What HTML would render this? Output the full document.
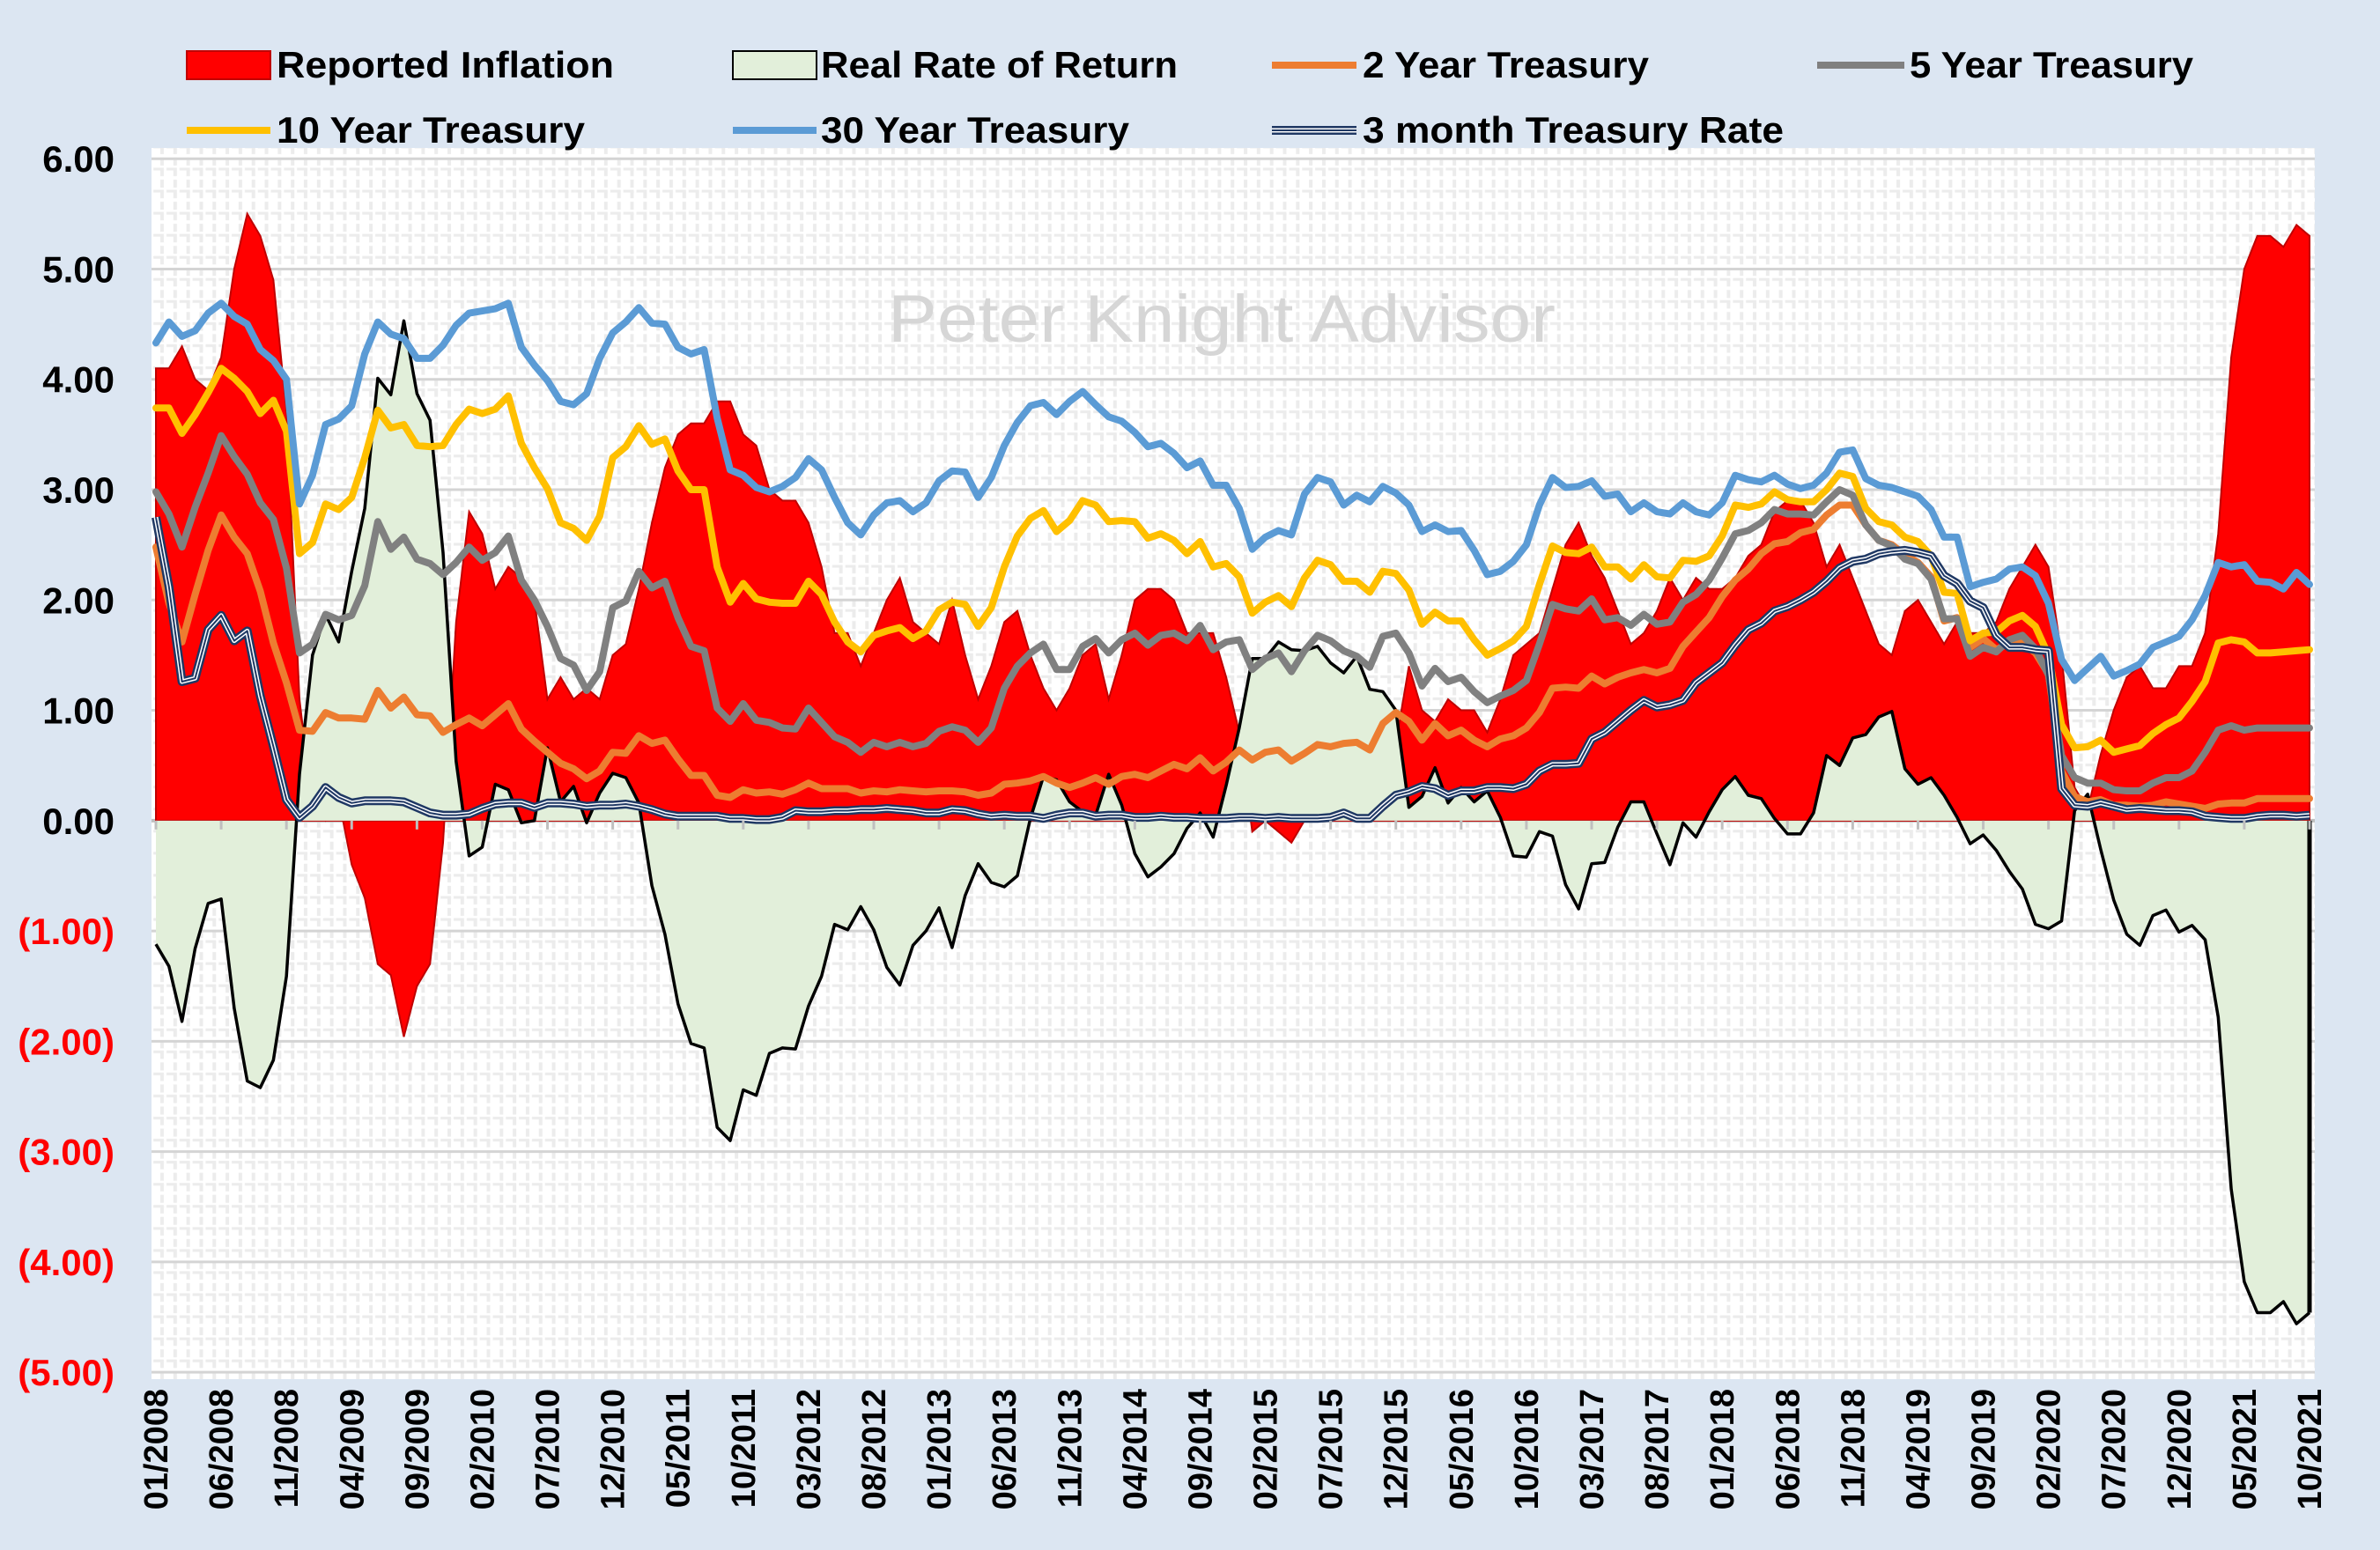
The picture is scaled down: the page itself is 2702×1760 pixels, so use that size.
<!DOCTYPE html>
<html><head><meta charset="utf-8"><style>
html,body{margin:0;padding:0;background:#dce6f2;}
svg{display:block;font-family:"Liberation Sans",sans-serif;}
</style></head><body>
<svg id="chart" width="2702" height="1760" viewBox="0 0 2702 1760" xmlns="http://www.w3.org/2000/svg">
<defs>
<pattern id="minor" x="177" y="180" width="14.82" height="25.06" patternUnits="userSpaceOnUse">
<line x1="7" y1="0" x2="7" y2="25.06" stroke="#ececec" stroke-width="4" stroke-dasharray="8 4"/>
<line x1="0" y1="12" x2="14.82" y2="12" stroke="#ececec" stroke-width="3" stroke-dasharray="9 3"/>
</pattern>
</defs>
<rect x="0" y="0" width="2702" height="1760" fill="#dce6f2"/>
<rect x="172" y="168" width="2456" height="1398" fill="#ffffff"/>
<rect x="172" y="168" width="2456" height="1398" fill="url(#minor)"/>
<g id="grid"></g>
<text x="1387" y="388" font-size="76" fill="#d6d6d6" text-anchor="middle" textLength="758" lengthAdjust="spacingAndGlyphs">Peter Knight Advisor</text>
<g id="series"></g>
<g id="yaxis"></g>
<g id="xaxis"></g>
<g id="legend">
<g>
<rect x="212" y="58" width="95" height="32" fill="#ff0000" stroke="#c00000" stroke-width="2"/>
<text x="314" y="88" font-size="42" font-weight="bold" textLength="383" lengthAdjust="spacingAndGlyphs">Reported Inflation</text></g>
<g>
<rect x="832" y="58" width="95" height="32" fill="#e2efda" stroke="#000" stroke-width="2"/>
<text x="932" y="88" font-size="42" font-weight="bold" textLength="405" lengthAdjust="spacingAndGlyphs">Real Rate of Return</text></g>
<g>
<line x1="1444" y1="74" x2="1540" y2="74" stroke="#ed7d31" stroke-width="8"/>
<text x="1547" y="88" font-size="42" font-weight="bold" textLength="325" lengthAdjust="spacingAndGlyphs">2 Year Treasury</text></g>
<g>
<line x1="2063" y1="74" x2="2162" y2="74" stroke="#808080" stroke-width="8"/>
<text x="2168" y="88" font-size="42" font-weight="bold" textLength="322" lengthAdjust="spacingAndGlyphs">5 Year Treasury</text></g>
<g>
<line x1="212" y1="148" x2="307" y2="148" stroke="#ffc000" stroke-width="8"/>
<text x="314" y="162" font-size="42" font-weight="bold" textLength="350" lengthAdjust="spacingAndGlyphs">10 Year Treasury</text></g>
<g>
<line x1="832" y1="148" x2="927" y2="148" stroke="#5b9bd5" stroke-width="8"/>
<text x="932" y="162" font-size="42" font-weight="bold" textLength="350" lengthAdjust="spacingAndGlyphs">30 Year Treasury</text></g>
<g>
<line x1="1444" y1="148" x2="1540" y2="148" stroke="#1f3864" stroke-width="10"/>
<line x1="1444" y1="148" x2="1540" y2="148" stroke="#ffffff" stroke-width="5"/>
<line x1="1444" y1="148" x2="1540" y2="148" stroke="#1f3864" stroke-width="2"/>
<text x="1547" y="162" font-size="42" font-weight="bold" textLength="478" lengthAdjust="spacingAndGlyphs">3 month Treasury Rate</text></g>
</g>
</svg>
<script>
const startYear = 2008;
const inflation = [4.1,4.1,4.3,4.0,3.9,4.2,5.0,5.5,5.3,4.9,3.7,1.1,
0.1,0.0,0.2,-0.4,-0.7,-1.3,-1.4,-1.96,-1.5,-1.3,-0.2,1.8,
2.8,2.6,2.1,2.3,2.2,2.0,1.1,1.3,1.1,1.2,1.1,1.5,
1.6,2.1,2.7,3.2,3.5,3.6,3.6,3.8,3.8,3.5,3.4,3.0,
2.9,2.9,2.7,2.3,1.7,1.7,1.4,1.7,2.0,2.2,1.8,1.7,
1.6,2.0,1.5,1.1,1.4,1.8,1.9,1.5,1.2,1.0,1.2,1.5,
1.6,1.1,1.5,2.0,2.1,2.1,2.0,1.7,1.7,1.7,1.3,0.8,
-0.1,0.0,-0.1,-0.2,0.0,0.1,0.2,0.2,0.0,0.2,0.5,0.7,
1.4,1.0,0.9,1.1,1.0,1.0,0.8,1.1,1.5,1.6,1.7,2.1,
2.5,2.7,2.4,2.2,1.9,1.6,1.7,1.9,2.2,2.0,2.2,2.1,
2.1,2.2,2.4,2.5,2.8,2.9,2.9,2.7,2.3,2.5,2.2,1.9,
1.6,1.5,1.9,2.0,1.8,1.6,1.8,1.7,1.7,1.8,2.1,2.3,
2.5,2.3,1.5,0.3,0.1,0.6,1.0,1.3,1.4,1.2,1.2,1.4,
1.4,1.7,2.6,4.2,5.0,5.3,5.3,5.2,5.4,5.3];
const twoYear = [2.48,1.97,1.62,2.05,2.45,2.77,2.57,2.42,2.08,1.61,1.25,0.82,
0.81,0.98,0.93,0.93,0.92,1.18,1.02,1.12,0.96,0.95,0.80,0.87,
0.93,0.86,0.96,1.06,0.83,0.72,0.62,0.52,0.47,0.38,0.45,0.62,
0.61,0.77,0.70,0.73,0.56,0.41,0.41,0.23,0.21,0.28,0.25,0.26,
0.24,0.28,0.34,0.29,0.29,0.29,0.25,0.27,0.26,0.28,0.27,0.26,
0.27,0.27,0.26,0.23,0.25,0.33,0.34,0.36,0.40,0.34,0.30,0.34,
0.39,0.33,0.40,0.42,0.39,0.45,0.51,0.47,0.57,0.45,0.53,0.64,
0.55,0.62,0.64,0.54,0.61,0.69,0.67,0.70,0.71,0.64,0.88,0.98,
0.90,0.73,0.88,0.77,0.82,0.73,0.67,0.74,0.77,0.84,0.98,1.20,
1.21,1.20,1.31,1.24,1.30,1.34,1.37,1.34,1.38,1.58,1.71,1.84,
2.03,2.18,2.28,2.42,2.51,2.53,2.61,2.64,2.77,2.86,2.86,2.68,
2.54,2.50,2.41,2.34,2.21,1.81,1.84,1.57,1.65,1.55,1.61,1.61,
1.52,1.33,0.45,0.22,0.17,0.19,0.14,0.14,0.13,0.14,0.17,0.15,
0.13,0.11,0.15,0.16,0.16,0.20,0.20,0.20,0.20,0.20];
const fiveYear = [2.98,2.78,2.48,2.84,3.15,3.49,3.30,3.14,2.88,2.73,2.29,1.52,
1.60,1.87,1.82,1.86,2.13,2.71,2.46,2.57,2.37,2.33,2.23,2.34,
2.48,2.36,2.43,2.58,2.18,2.00,1.76,1.47,1.41,1.18,1.35,1.93,
1.99,2.26,2.11,2.17,1.84,1.58,1.54,1.02,0.90,1.06,0.91,0.89,
0.84,0.83,1.02,0.89,0.76,0.71,0.62,0.71,0.67,0.71,0.67,0.70,
0.81,0.85,0.82,0.71,0.84,1.20,1.40,1.52,1.60,1.37,1.37,1.58,
1.65,1.52,1.64,1.70,1.59,1.68,1.70,1.63,1.77,1.55,1.62,1.64,
1.37,1.47,1.52,1.35,1.54,1.68,1.63,1.54,1.49,1.39,1.67,1.70,
1.52,1.22,1.38,1.26,1.30,1.17,1.07,1.13,1.18,1.27,1.60,1.96,
1.92,1.90,2.01,1.82,1.84,1.77,1.87,1.78,1.80,1.98,2.05,2.18,
2.38,2.60,2.63,2.70,2.82,2.78,2.78,2.77,2.89,3.00,2.95,2.68,
2.54,2.49,2.37,2.33,2.19,1.83,1.83,1.49,1.57,1.53,1.64,1.68,
1.56,1.32,0.59,0.39,0.34,0.34,0.28,0.27,0.27,0.34,0.39,0.39,
0.45,0.62,0.82,0.86,0.82,0.84,0.84,0.84,0.84,0.84];
const tenYear = [3.74,3.74,3.51,3.68,3.88,4.10,4.01,3.89,3.69,3.81,3.53,2.42,
2.52,2.87,2.82,2.93,3.29,3.72,3.56,3.59,3.40,3.39,3.40,3.59,
3.73,3.69,3.73,3.85,3.42,3.20,3.01,2.70,2.65,2.54,2.76,3.29,
3.39,3.58,3.41,3.46,3.17,3.00,3.00,2.30,1.98,2.15,2.01,1.98,
1.97,1.97,2.17,2.05,1.80,1.62,1.53,1.68,1.72,1.75,1.65,1.72,
1.91,1.98,1.96,1.76,1.93,2.30,2.58,2.74,2.81,2.62,2.72,2.90,
2.86,2.71,2.72,2.71,2.56,2.60,2.54,2.42,2.53,2.30,2.33,2.21,
1.88,1.98,2.04,1.94,2.20,2.36,2.32,2.17,2.17,2.07,2.26,2.24,
2.09,1.78,1.89,1.81,1.81,1.64,1.50,1.56,1.63,1.76,2.14,2.49,
2.43,2.42,2.48,2.30,2.30,2.19,2.32,2.21,2.20,2.36,2.35,2.40,
2.58,2.86,2.84,2.87,2.98,2.91,2.89,2.89,3.00,3.15,3.12,2.83,
2.71,2.68,2.57,2.53,2.40,2.07,2.06,1.63,1.70,1.71,1.81,1.86,
1.76,1.50,0.87,0.66,0.67,0.73,0.62,0.65,0.68,0.79,0.87,0.93,
1.08,1.26,1.61,1.64,1.62,1.52,1.52,1.53,1.54,1.55];
const thirtyYear = [4.33,4.52,4.39,4.44,4.60,4.69,4.57,4.50,4.27,4.17,4.00,2.87,
3.13,3.59,3.64,3.76,4.23,4.52,4.41,4.37,4.19,4.19,4.31,4.49,
4.60,4.62,4.64,4.69,4.29,4.13,3.99,3.80,3.77,3.87,4.19,4.42,
4.52,4.65,4.51,4.50,4.29,4.23,4.27,3.65,3.18,3.13,3.02,2.98,
3.03,3.11,3.28,3.18,2.93,2.70,2.59,2.77,2.88,2.90,2.80,2.88,
3.08,3.17,3.16,2.93,3.11,3.40,3.61,3.76,3.79,3.68,3.80,3.89,
3.77,3.66,3.62,3.52,3.39,3.42,3.33,3.20,3.26,3.04,3.04,2.83,
2.46,2.57,2.63,2.59,2.96,3.11,3.07,2.86,2.95,2.89,3.03,2.97,
2.86,2.62,2.68,2.62,2.63,2.45,2.23,2.26,2.35,2.50,2.86,3.11,
3.02,3.03,3.08,2.94,2.96,2.80,2.88,2.80,2.78,2.88,2.80,2.77,
2.88,3.13,3.09,3.07,3.13,3.05,3.01,3.04,3.15,3.34,3.36,3.10,
3.04,3.02,2.98,2.94,2.82,2.57,2.57,2.12,2.16,2.19,2.28,2.30,
2.22,1.97,1.46,1.27,1.38,1.49,1.31,1.36,1.42,1.57,1.62,1.67,
1.82,2.04,2.34,2.30,2.32,2.17,2.16,2.10,2.25,2.14];
const threeMonth = [2.75,2.12,1.26,1.29,1.73,1.86,1.63,1.72,1.13,0.67,0.19,0.03,
0.13,0.30,0.21,0.16,0.18,0.18,0.18,0.17,0.12,0.07,0.05,0.05,
0.06,0.11,0.15,0.16,0.16,0.12,0.16,0.16,0.15,0.13,0.14,0.14,
0.15,0.13,0.10,0.06,0.04,0.04,0.04,0.04,0.02,0.02,0.01,0.01,
0.03,0.09,0.08,0.08,0.09,0.09,0.10,0.10,0.11,0.10,0.09,0.07,
0.07,0.10,0.09,0.06,0.04,0.05,0.04,0.04,0.02,0.05,0.07,0.07,
0.04,0.05,0.05,0.03,0.03,0.04,0.03,0.03,0.02,0.02,0.02,0.03,
0.03,0.02,0.03,0.02,0.02,0.02,0.03,0.07,0.02,0.02,0.13,0.23,
0.26,0.31,0.29,0.23,0.27,0.27,0.30,0.30,0.29,0.33,0.45,0.51,
0.51,0.52,0.74,0.80,0.90,1.00,1.09,1.03,1.05,1.09,1.25,1.34,
1.43,1.59,1.73,1.79,1.90,1.94,2.00,2.07,2.17,2.29,2.35,2.37,
2.42,2.44,2.45,2.43,2.40,2.22,2.15,1.99,1.93,1.68,1.57,1.57,
1.55,1.54,0.29,0.14,0.13,0.16,0.13,0.10,0.11,0.10,0.09,0.09,
0.08,0.04,0.03,0.02,0.02,0.04,0.05,0.05,0.04,0.05];
const yTicks = [6,5,4,3,2,1,0,-1,-2,-3,-4,-5];
const yTickLabels = ["6.00","5.00","4.00","3.00","2.00","1.00","0.00","(1.00)","(2.00)","(3.00)","(4.00)","(5.00)"];
const xLabelEvery = 5;

const NS = "http://www.w3.org/2000/svg";
const X0 = 177, X1 = 2622, YTOP = 180.2, UNIT = 125.27;
const N = inflation.length;
function xs(i){ return X0 + (X1 - X0) * i / (N - 1); }
function ys(v){ return YTOP + (6 - v) * UNIT; }
function mk(tag, attrs, parent){ const e = document.createElementNS(NS, tag); for (const k in attrs) e.setAttribute(k, attrs[k]); parent.appendChild(e); return e; }

const grid = document.getElementById('grid');
yTicks.forEach(function(t){
  const l = mk('line', {x1:172, x2:2628, y1:ys(t), y2:ys(t), stroke: t===0 ? '#bfbfbf' : '#d4d4d4', 'stroke-width': t===0 ? 4 : 3}, grid);
  
  
});

const series = document.getElementById('series');
function areaPath(vals){
  let d = 'M' + xs(0) + ' ' + ys(0);
  vals.forEach(function(v,i){ d += ' L' + xs(i).toFixed(1) + ' ' + ys(v).toFixed(1); });
  d += ' L' + xs(vals.length-1) + ' ' + ys(0) + ' Z';
  return d;
}
function linePath(vals){
  return vals.map(function(v,i){ return (i ? 'L' : 'M') + xs(i).toFixed(1) + ' ' + ys(v).toFixed(1); }).join(' ');
}
const realRate = fiveYear.map(function(v,i){ return +(v - inflation[i]).toFixed(2); });

const infl = mk('path', {d: areaPath(inflation), fill:'#ff0000', stroke:'#c00000', 'stroke-width':2}, series);


const real = mk('path', {d: areaPath(realRate), fill:'#e2efda', stroke:'none'}, series);


const realL = mk('path', {d: linePath(realRate), fill:'none', stroke:'#000', 'stroke-width':3.5, 'stroke-linejoin':'round'}, series);


const lastReal = mk('line', {x1:xs(N-1), x2:xs(N-1), y1:ys(0), y2:ys(realRate[N-1]), stroke:'#000', 'stroke-width':5}, series);



function drawLine(vals, color, name){
  const p = mk('path', {d: linePath(vals), fill:'none', stroke:color, 'stroke-width':8, 'stroke-linejoin':'round', 'stroke-linecap':'round'}, series);
  
  
}
drawLine(twoYear, '#ed7d31', '2-year-treasury-line');
drawLine(fiveYear, '#808080', '5-year-treasury-line');
drawLine(tenYear, '#ffc000', '10-year-treasury-line');
drawLine(thirtyYear, '#5b9bd5', '30-year-treasury-line');
const d3 = linePath(threeMonth);
const t1 = mk('path', {d:d3, fill:'none', stroke:'#1f3864', 'stroke-width':10, 'stroke-linejoin':'round'}, series);


const t2 = mk('path', {d:d3, fill:'none', stroke:'#ffffff', 'stroke-width':5, 'stroke-linejoin':'round'}, series);


const t3 = mk('path', {d:d3, fill:'none', stroke:'#1f3864', 'stroke-width':2, 'stroke-linejoin':'round'}, series);



const yaxis = document.getElementById('yaxis');
yTicks.forEach(function(t,i){
  const tx = mk('text', {x:130, y:ys(t)+15, 'text-anchor':'end', 'font-size':42, 'font-weight':'bold', fill: t<0 ? '#ff0000' : '#000000'}, yaxis);
  tx.textContent = yTickLabels[i];
  
  
});

const xaxis = document.getElementById('xaxis');
for (let i = 0; i < N; i += xLabelEvery){
  const m = i % 12 + 1, yr = startYear + Math.floor(i / 12);
  const lbl = (m < 10 ? '0' + m : '' + m) + '/' + yr;
  const x = xs(i);
  const tk = mk('line', {x1:x, x2:x, y1:ys(0), y2:ys(0)+10, stroke:'#bfbfbf', 'stroke-width':3}, xaxis);
  
  
  const tx = mk('text', {x:0, y:0, 'text-anchor':'end', 'font-size':38, 'font-weight':'bold', transform:'translate(' + (x+13) + ',1577) rotate(-90)'}, xaxis);
  tx.textContent = lbl;
  
  
}
</script>
</body></html>
